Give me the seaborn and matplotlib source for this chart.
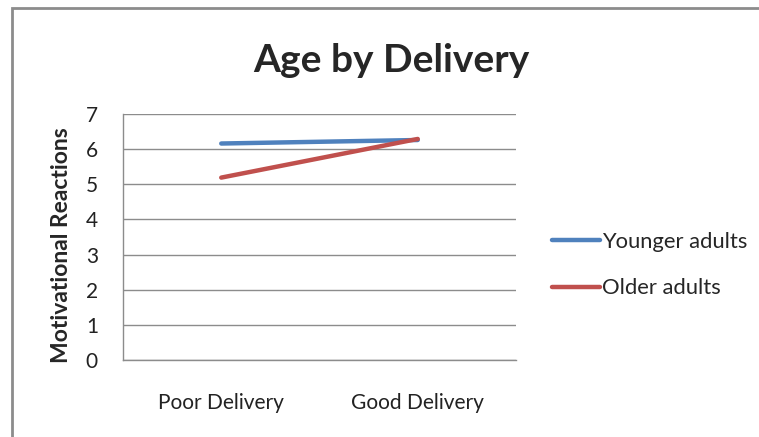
import pandas as pd
import matplotlib.pyplot as plt
import seaborn as sns
from matplotlib.patches import Rectangle

# chart values
deliveries = ['Poor Delivery', 'Good Delivery']
younger = [6.16, 6.26]
older = [5.19, 6.29]
groups = ['Younger adults', 'Older adults']

data = pd.DataFrame({
    'Delivery': deliveries * 2,
    'Score': younger + older,
    'Group': [groups[0]] * 2 + [groups[1]] * 2,
})

sns.set_style('white')
plt.rcParams['font.family'] = ['Lato', 'DejaVu Sans']

fig = plt.figure(figsize=(7.59, 4.37), dpi=100)
ax = fig.add_axes([123 / 759, 1 - 360 / 437, 393 / 759, 246 / 437])

palette = {'Younger adults': '#4F81BD', 'Older adults': '#C0504D'}
sns.lineplot(data=data, x='Delivery', y='Score', hue='Group', palette=palette,
             linewidth=3.2, ax=ax, sort=False)

ax.set_xlim(-0.5, 1.5)
ax.set_ylim(0, 7)
ax.set_yticks(range(0, 8))
ax.yaxis.grid(True, color='#8c8c8c', linewidth=1)
ax.set_axisbelow(True)
for side in ['top', 'right']:
    ax.spines[side].set_visible(False)
for side in ['left', 'bottom']:
    ax.spines[side].set_color('#8c8c8c')
    ax.spines[side].set_linewidth(1)
ax.tick_params(axis='both', length=0, labelsize=15, colors='#222222')
ax.tick_params(axis='y', pad=18)
ax.tick_params(axis='x', pad=24)
ax.set_xlabel('')
ax.set_ylabel('Motivational Reactions', fontsize=16.5, fontweight='bold')
ax.yaxis.set_label_coords(-0.13, 0.467)

fig.text(0.515, 1 - 60 / 437, 'Age by Delivery', fontsize=28, fontweight='bold',
         ha='center', va='center')

ax.legend(loc='center left', bbox_to_anchor=(1.041, 0.385), frameon=False,
          fontsize=15.8, handlelength=2.2, handletextpad=0.1, labelspacing=1.2)

# chart-area frame like the spreadsheet export
fig.patches.append(Rectangle((12 / 759, -0.1), 1.2, 1 - 8 / 437 + 0.1,
                             transform=fig.transFigure, fill=False,
                             edgecolor='#8c8c8c', linewidth=2))

plt.savefig('out.png', dpi=100)
